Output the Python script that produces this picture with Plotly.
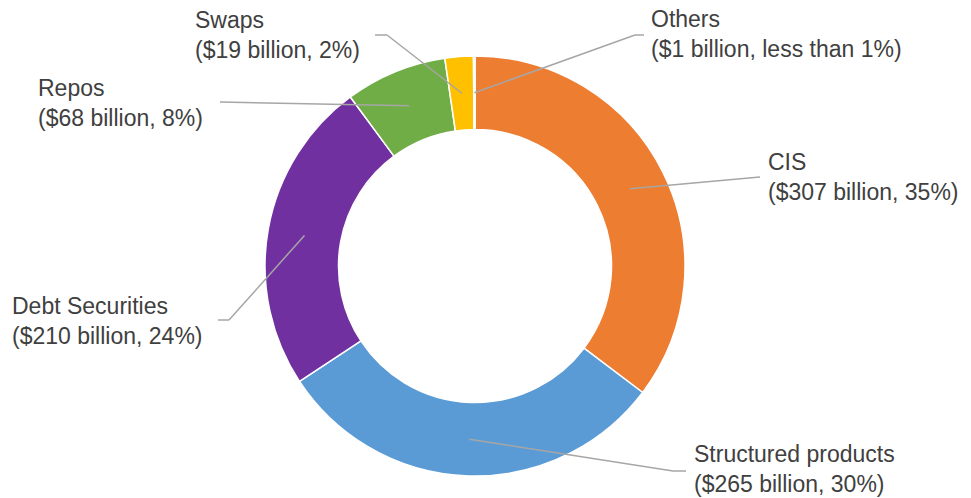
import math
import plotly.graph_objects as go

# Exposure by instrument type (USD billions)
categories = ["CIS", "Structured products", "Debt Securities", "Repos", "Swaps", "Others"]
values = [307, 265, 210, 68, 19, 1]
share_text = ["35%", "30%", "24%", "8%", "2%", "less than 1%"]
colors = ["#ED7D31", "#5B9BD5", "#7030A0", "#70AD47", "#FFC000", "#843C0C"]

W, H = 971, 498
CX, CY = 475, 266          # donut centre (px)
R_OUT = 210                # outer radius (px)
HOLE = 0.65
R_MID = R_OUT * (1 + HOLE) / 2

# label anchor (left edge, vertical centre) and leader-line elbow, in px
label_pos = {
    "CIS": (766, 177, [(760, 177)]),
    "Structured products": (692, 469, [(673, 471), (686, 471)]),
    "Debt Securities": (10, 321, [(229, 320), (218, 320)]),
    "Repos": (36, 103, [(220, 102)]),
    "Swaps": (193, 35, [(387, 35), (375, 35)]),
    "Others": (649, 34, [(635, 35), (644, 35)]),
}


def px(x, y):
    return x / W, 1 - y / H


fig = go.Figure(go.Pie(
    labels=categories,
    values=values,
    sort=False,
    direction="clockwise",
    rotation=0,
    hole=HOLE,
    textinfo="none",
    hoverinfo="label+value+percent",
    marker=dict(colors=colors, line=dict(color="white", width=1.5)),
    domain=dict(x=[(CX - R_OUT) / W, (CX + R_OUT) / W],
                y=[1 - (CY + R_OUT) / H, 1 - (CY - R_OUT) / H]),
    showlegend=False,
))

total = sum(values)
cum = 0
shapes, annotations = [], []
for name, val, pct in zip(categories, values, share_text):
    mid = (cum + val / 2) / total * 2 * math.pi
    cum += val
    sx = CX + R_MID * math.sin(mid)
    sy = CY - R_MID * math.cos(mid)
    lx, ly, elbow = label_pos[name]
    pts = [(sx, sy)] + elbow
    for (x0, y0), (x1, y1) in zip(pts[:-1], pts[1:]):
        a0, b0 = px(x0, y0)
        a1, b1 = px(x1, y1)
        shapes.append(dict(type="line", xref="paper", yref="paper",
                           x0=a0, y0=b0, x1=a1, y1=b1,
                           line=dict(color="#A6A6A6", width=1.5)))
    ax, ay = px(lx, ly)
    annotations.append(dict(
        x=ax, y=ay, xref="paper", yref="paper",
        xanchor="left", yanchor="middle", align="left", showarrow=False,
        text=f"{name}<br>(${val} billion, {pct})",
        font=dict(family="Liberation Sans, Arial, sans-serif", size=23, color="#404040"),
    ))

fig.update_layout(
    width=W, height=H,
    margin=dict(l=0, r=0, t=0, b=0),
    paper_bgcolor="white", plot_bgcolor="white",
    shapes=shapes, annotations=annotations,
)

fig.write_html("out.html")
